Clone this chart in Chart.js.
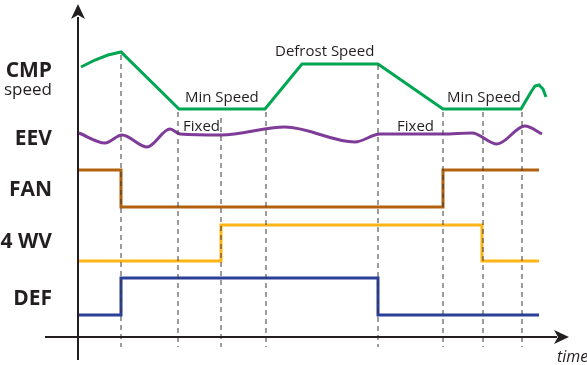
<!DOCTYPE html>
<html lang="en">
<head>
    <meta charset="UTF-8">
    <title>Defrost timing</title>
    <script src="https://cdn.jsdelivr.net/npm/chart.js"></script>
    <style>
        body { margin: 0; background: #fff; }
        canvas { display: block; }
    </style>
</head>
<body>
    <canvas id="timing" width="587" height="365"></canvas>
    <script>
        // time marks of the dashed guides
        var eventTimes = [43, 100, 143, 188, 300, 365, 405, 444];
        var guideTops = [282, 225, 219, 225, 272, 225, 225, 225];

        // compressor speed
        var cmpT = [3, 17, 30, 43, 101, 187, 224, 300, 365, 443, 453, 457, 461, 465, 468];
        var cmpV = [270, 277, 282, 285, 228, 228, 273, 273, 228, 228, 245, 251, 252, 248, 240];

        // expansion valve opening
        var eevT = [1, 27, 44, 69, 92, 102, 143, 207, 277, 302, 365, 394, 419, 447, 464];
        var eevV = [204, 194, 202, 190, 208, 203, 202, 210, 195, 203, 203, 204, 193, 211, 203];

        // on/off signals (1 = high)
        var fanT = [-1, 43, 365, 461];
        var fanS = [1, 0, 1, 1];
        var wvT = [-1, 143, 404, 461];
        var wvS = [0, 1, 0, 0];
        var defT = [-1, 43, 300, 461];
        var defS = [0, 1, 0, 0];

        var rowLabels = ['CMP', 'EEV', 'FAN', '4 WV', 'DEF'];

        function pts(xs, ys) {
            return xs.map(function (x, i) { return { x: x, y: ys[i] }; });
        }
        function steps(xs, st, lo, hi) {
            return xs.map(function (x, i) { return { x: x, y: st[i] ? hi : lo }; });
        }

        var ink = '#231f20';
        var guides = eventTimes.map(function (t, i) {
            return {
                data: [{ x: t, y: guideTops[i] }, { x: t, y: -10 }],
                borderColor: '#3a3a3a', borderWidth: 1, borderDash: [5, 4]
            };
        });

        var overlay = {
            id: 'overlay',
            afterDatasetsDraw: function (chart) {
                var c = chart.ctx, sx = chart.scales.x, sy = chart.scales.y;
                var X = function (v) { return sx.getPixelForValue(v); };
                var Y = function (v) { return sy.getPixelForValue(v); };
                c.save();
                // axes
                c.strokeStyle = ink; c.fillStyle = ink; c.lineWidth = 2;
                c.beginPath();
                c.moveTo(X(0), Y(-23)); c.lineTo(X(0), Y(320));
                c.moveTo(X(-33), Y(0)); c.lineTo(X(479), Y(0));
                c.stroke();
                var ax = X(0), ay = Y(333);
                c.beginPath();
                c.moveTo(ax, ay); c.lineTo(ax + 7, ay + 15); c.lineTo(ax, ay + 11); c.lineTo(ax - 7, ay + 15);
                c.closePath(); c.fill();
                var bx = X(491), by = Y(0);
                c.beginPath();
                c.moveTo(bx, by); c.lineTo(bx - 15, by - 7); c.lineTo(bx - 11, by); c.lineTo(bx - 15, by + 7);
                c.closePath(); c.fill();

                // row labels
                c.textAlign = 'right';
                c.textBaseline = 'alphabetic';
                c.font = 'bold 21px "Open Sans", sans-serif';
                var rowBase = [260, 192, 141, 89, 32];
                rowLabels.forEach(function (s, i) {
                    c.fillText(s, X(-26), Y(rowBase[i]));
                });
                c.font = '17px "Open Sans", sans-serif';
                c.fillText('speed', X(-26), Y(242));

                // notes
                c.textAlign = 'left';
                c.font = '15px "Open Sans", sans-serif';
                c.fillText('Min Speed', X(107), Y(235));
                c.fillText('Defrost Speed', X(197), Y(281));
                c.fillText('Min Speed', X(369), Y(235));
                c.fillText('Fixed', X(105), Y(206));
                c.fillText('Fixed', X(319), Y(206));
                c.font = 'italic 16px "Open Sans", sans-serif';
                c.fillText('time', X(479), Y(-25));
                c.restore();
            }
        };

        new Chart(document.getElementById('timing'), {
            type: 'line',
            data: {
                datasets: guides.concat([
                    { label: 'CMP speed', data: pts(cmpT, cmpV), borderColor: '#00a651', borderWidth: 3 },
                    { label: 'EEV', data: pts(eevT, eevV), borderColor: '#7e3b98', borderWidth: 3, cubicInterpolationMode: 'monotone' },
                    { label: 'FAN', data: steps(fanT, fanS, 130, 167), borderColor: '#b2620f', borderWidth: 3, stepped: 'before' },
                    { label: '4 WV', data: steps(wvT, wvS, 76, 112), borderColor: '#fdb515', borderWidth: 3, stepped: 'before' },
                    { label: 'DEF', data: steps(defT, defS, 22, 59), borderColor: '#2a3f98', borderWidth: 3, stepped: 'before' }
                ])
            },
            options: {
                responsive: false,
                animation: false,
                layout: { padding: 0 },
                elements: { point: { radius: 0 }, line: { tension: 0, fill: false } },
                plugins: { legend: { display: false }, tooltip: { enabled: false } },
                scales: {
                    x: { type: 'linear', display: false, min: -78, max: 509 },
                    y: { type: 'linear', display: false, min: -28, max: 337 }
                }
            },
            plugins: [overlay]
        });
    </script>
</body>
</html>
